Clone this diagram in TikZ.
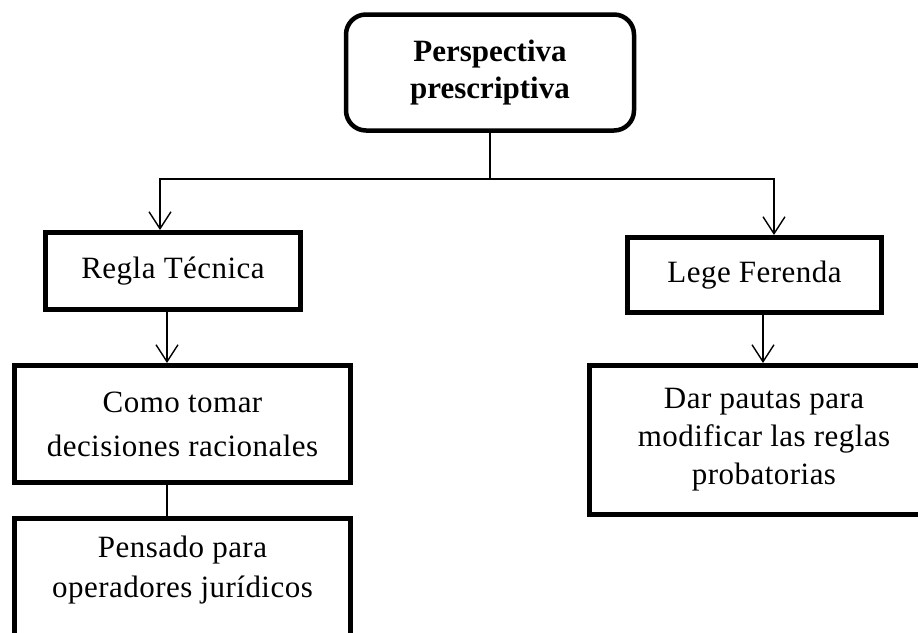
\documentclass[tikz,border=0pt]{standalone}
\usepackage{fontspec}
\setmainfont{Liberation Serif}
\newfontfamily\boxfont{Liberation Serif}[LetterSpace=1.5]
\usetikzlibrary{arrows.meta}
\begin{document}
\begin{tikzpicture}[x=1pt,y=-1pt,
  box/.style={draw=black,line width=5pt,rectangle,inner sep=0pt,align=center,
    font=\boxfont\fontsize{31pt}{40pt}\selectfont},
  headbox/.style={box,rounded corners=20pt,line width=4.5pt,
    font=\fontsize{31pt}{37pt}\selectfont\bfseries},
  txt/.style={inner sep=0pt,align=center,font=\boxfont\fontsize{31pt}{40pt}\selectfont},
  link/.style={line width=1.4pt},
  arr/.style={link,-{Straight Barb[length=17pt,width=22pt,line width=1.4pt]}}]
\useasboundingbox (0,0) rectangle (918,632);
\clip (0,0) rectangle (918,632);
\fill[white] (0,0) rectangle (918,632);

% top box
\node[headbox,minimum width=288pt,minimum height=116pt] (top) at (490,72.5)
  {Perspectiva\\prescriptiva};

% second level
\node[box,minimum width=255pt,minimum height=77pt] (regla) at (173,271) {Regla Técnica};
\node[box,minimum width=254pt,minimum height=75pt] (lege) at (754.5,275) {Lege Ferenda};

% third level
\node[box,minimum width=336pt,minimum height=117pt,
  font=\boxfont\fontsize{31pt}{44pt}\selectfont] (como) at (182.5,424)
  {Como tomar\\decisiones racionales};
\node[box,minimum width=350pt,minimum height=149pt,
  font=\boxfont\fontsize{31pt}{38pt}\selectfont] (dar) at (764,440)
  {Dar pautas para\\modificar las reglas\\probatorias};

% fourth level (runs past the lower edge)
\node[box,minimum width=336pt,minimum height=160pt,anchor=north] (pens) at (182.5,515.5) {};
\node[txt] (penstxt) at (182.5,570) {Pensado para\\operadores jurídicos};

% connectors
\coordinate (split) at (490,179);
\draw[link] (top.south) -- (split);
\draw[arr] (split) -| ([xshift=-13pt]regla.north);
\draw[arr] (split) -| ([xshift=19.5pt]lege.north);
\draw[arr] ([xshift=-6pt]regla.south) -- ([xshift=-6pt]regla.south |- como.north);
\draw[link] ([xshift=-15.5pt]como.south) -- ([xshift=-15.5pt]como.south |- pens.north);
\draw[arr] ([xshift=8.5pt]lege.south) -- ([xshift=8.5pt]lege.south |- dar.north);
\end{tikzpicture}
\end{document}
